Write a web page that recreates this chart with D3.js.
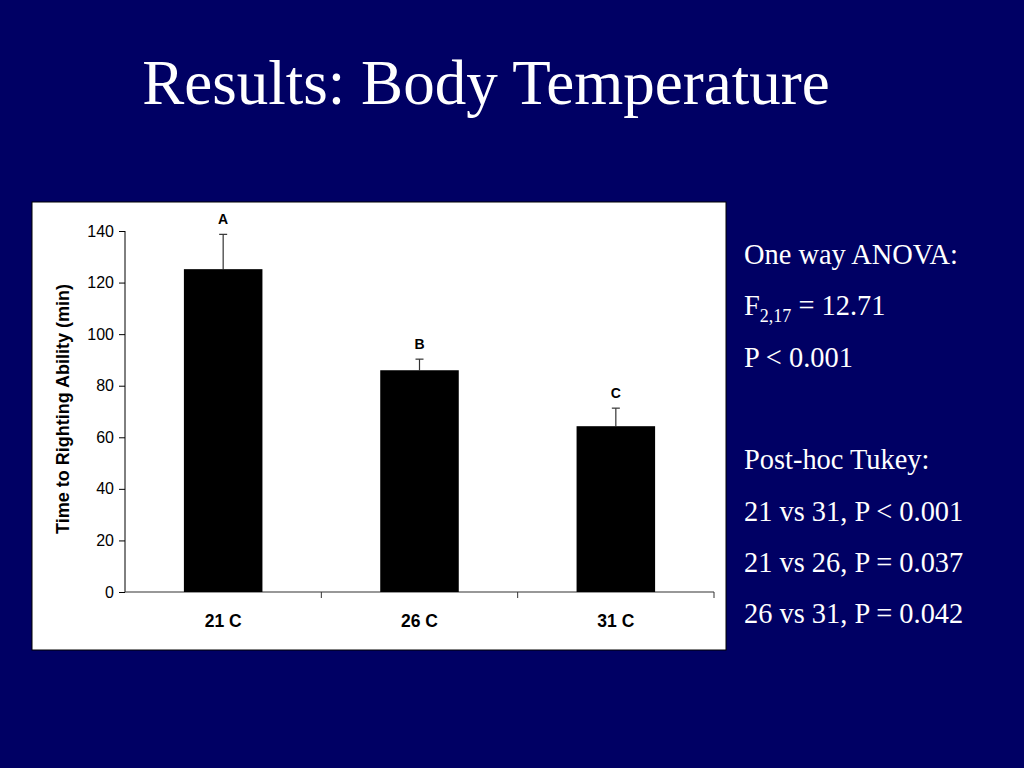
<!DOCTYPE html>
<html><head><meta charset="utf-8">
<script src="https://cdn.jsdelivr.net/npm/d3@7"></script>
<style>html,body{margin:0;padding:0;background:#000064;}svg{display:block;}</style>
</head><body>
<script>
const categories = ["21 C", "26 C", "31 C"];
const means = [125.2, 86.0, 64.3];
const errors = [13.5, 4.3, 7.0];
const groupLetters = ["A", "B", "C"];
const yTicks = [0, 20, 40, 60, 80, 100, 120, 140];
const statsLines = [
  {t: "One way ANOVA:"},
  {t: "F", sub: "2,17", rest: " = 12.71"},
  {t: "P < 0.001"},
  {t: ""},
  {t: "Post-hoc Tukey:"},
  {t: "21 vs 31, P < 0.001"},
  {t: "21 vs 26, P = 0.037"},
  {t: "26 vs 31, P = 0.042"}
];

const W = 1024, H = 768;
const svg = d3.select("body").append("svg").attr("width", W).attr("height", H);
svg.append("rect").attr("width", W).attr("height", H).attr("fill", "#000064");

svg.append("text").attr("x", 486).attr("y", 104).attr("text-anchor", "middle")
  .attr("font-family", "'Liberation Serif','Times New Roman',serif").attr("font-size", 63)
  .attr("fill", "#fff").text("Results: Body Temperature");

svg.append("rect").attr("x", 32).attr("y", 202).attr("width", 694).attr("height", 448)
  .attr("fill", "#fff").attr("stroke", "#000").attr("stroke-width", 1);

const x0 = 125, x1 = 714, yTop = 231, yBot = 592;
const x = d3.scaleBand().domain(categories).range([x0, x1]).paddingInner(0.6).paddingOuter(0.3);
const y = d3.scaleLinear().domain([0, 140]).range([yBot, yTop]);

const g = svg.append("g");
const ya = g.append("g").attr("transform", `translate(${x0},0)`)
  .call(d3.axisLeft(y).tickValues(yTicks).tickSize(6).tickPadding(5));
ya.select(".domain").attr("stroke", "#000").attr("d", `M0,${yTop}V${yBot}`);
ya.selectAll("text").attr("font-family", "'Liberation Sans',Arial,sans-serif").attr("font-size", 16).attr("fill", "#000");

g.append("line").attr("x1", x0).attr("x2", x1).attr("y1", yBot).attr("y2", yBot).attr("stroke", "#333").attr("stroke-width", 1.2);
const step = x.step();
categories.forEach((c, i) => {
  const xx = i === categories.length - 1 ? x1 : x(c) + x.bandwidth() + step * 0.3;
  g.append("line").attr("x1", xx).attr("x2", xx).attr("y1", yBot).attr("y2", yBot + 6).attr("stroke", "#333");
});

g.selectAll(".cat").data(categories).enter().append("text")
  .attr("x", d => x(d) + x.bandwidth() / 2).attr("y", 627).attr("text-anchor", "middle")
  .attr("font-family", "'Liberation Sans',Arial,sans-serif").attr("font-weight", "bold").attr("font-size", 17.5)
  .text(d => d);

categories.forEach((c, i) => {
  const cx = x(c) + x.bandwidth() / 2;
  g.append("line").attr("x1", cx).attr("x2", cx).attr("y1", y(means[i])).attr("y2", y(means[i] + errors[i])).attr("stroke", "#333").attr("stroke-width", 1.2);
  g.append("line").attr("x1", cx - 4).attr("x2", cx + 4).attr("y1", y(means[i] + errors[i])).attr("y2", y(means[i] + errors[i])).attr("stroke", "#333").attr("stroke-width", 1.2);
  g.append("text").attr("x", cx).attr("y", y(means[i] + errors[i]) - 10).attr("text-anchor", "middle")
    .attr("font-family", "'Liberation Sans',Arial,sans-serif").attr("font-weight", "bold").attr("font-size", 14)
    .text(groupLetters[i]);
});

g.selectAll(".bar").data(categories).enter().append("rect")
  .attr("x", d => x(d)).attr("width", x.bandwidth())
  .attr("y", (d, i) => y(means[i])).attr("height", (d, i) => yBot - y(means[i]))
  .attr("fill", "#000");

svg.append("text").attr("transform", "translate(69,409) rotate(-90)").attr("text-anchor", "middle")
  .attr("font-family", "'Liberation Sans',Arial,sans-serif").attr("font-weight", "bold").attr("font-size", 18)
  .text("Time to Righting Ability (min)");

const st = svg.append("g").attr("font-family", "'Liberation Serif','Times New Roman',serif").attr("fill", "#fff").attr("font-size", 28.4);
statsLines.forEach((l, i) => {
  const t = st.append("text").attr("x", 744).attr("y", 264 + i * 51.3);
  t.append("tspan").text(l.t);
  if (l.sub) {
    t.append("tspan").attr("font-size", 18).attr("dy", 7).text(l.sub);
    t.append("tspan").attr("dy", -7).text(l.rest);
  }
});
</script>
</body></html>
